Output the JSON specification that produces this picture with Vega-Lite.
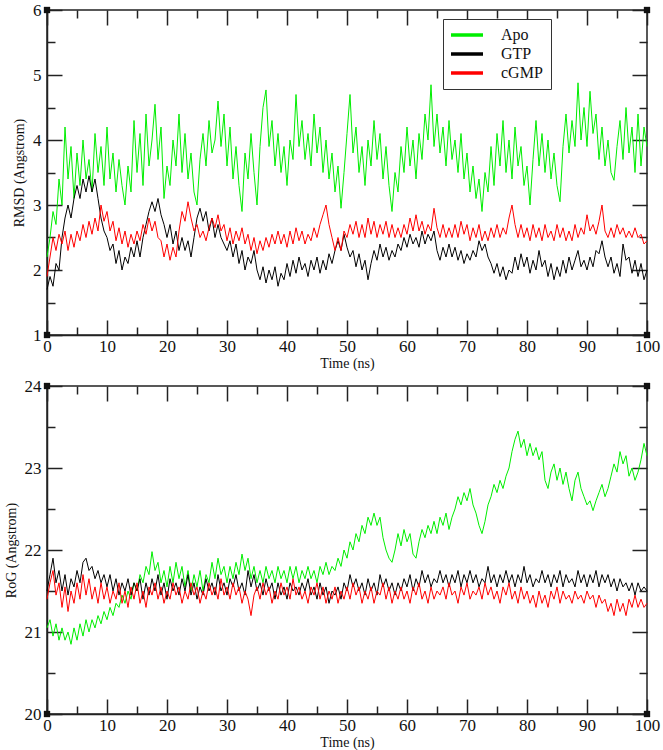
{
"$schema": "https://vega.github.io/schema/vega-lite/v6.json",
"padding": {"left": 3, "top": 0, "right": 10, "bottom": 2},
"background": "white",
"config": {
  "view": {"stroke": "#222", "strokeWidth": 1.5},
  "axis": {"labelFont": "Liberation Serif", "labelFontSize": 17, "labelColor": "#111", "titleFont": "Liberation Serif", "titleFontSize": 14, "titleFontWeight": "normal", "titleColor": "#111", "domainColor": "#222", "domainWidth": 1.5, "tickColor": "#222", "tickWidth": 1.5, "grid": false, "labelFlush": false, "labelOverlap": false, "format": "d"}
},
"datasets": {
  "rmsd": [
{"t":0,"Apo":2.2,"GTP":1.7,"cGMP":1.9},{"t":0.5,"Apo":2.5,"GTP":1.9,"cGMP":2.2},{"t":1,"Apo":2.9,"GTP":1.75,"cGMP":2.5},{"t":1.5,"Apo":2.7,"GTP":2.1,"cGMP":2.3},{"t":2,"Apo":3.4,"GTP":2.0,"cGMP":2.55},{"t":2.5,"Apo":3.0,"GTP":2.5,"cGMP":2.4},{"t":3,"Apo":4.2,"GTP":2.8,"cGMP":2.6},{"t":3.5,"Apo":3.4,"GTP":3.0,"cGMP":2.3},{"t":4,"Apo":3.9,"GTP":2.8,"cGMP":2.55},{"t":4.5,"Apo":3.1,"GTP":3.1,"cGMP":2.35},
{"t":5,"Apo":3.8,"GTP":3.3,"cGMP":2.6},{"t":5.5,"Apo":3.3,"GTP":3.1,"cGMP":2.45},{"t":6,"Apo":4.0,"GTP":3.4,"cGMP":2.7},{"t":6.5,"Apo":3.4,"GTP":3.2,"cGMP":2.5},{"t":7,"Apo":3.7,"GTP":3.45,"cGMP":2.75},{"t":7.5,"Apo":3.2,"GTP":3.2,"cGMP":2.55},{"t":8,"Apo":4.1,"GTP":3.4,"cGMP":2.8},{"t":8.5,"Apo":3.5,"GTP":3.1,"cGMP":2.6},{"t":9,"Apo":3.9,"GTP":2.8,"cGMP":3.0},{"t":9.5,"Apo":3.3,"GTP":2.6,"cGMP":2.75},
{"t":10,"Apo":4.2,"GTP":2.5,"cGMP":2.9},{"t":10.5,"Apo":3.4,"GTP":2.3,"cGMP":2.6},{"t":11,"Apo":3.8,"GTP":2.4,"cGMP":2.75},{"t":11.5,"Apo":3.2,"GTP":2.1,"cGMP":2.45},{"t":12,"Apo":3.7,"GTP":2.3,"cGMP":2.65},{"t":12.5,"Apo":3.3,"GTP":2.0,"cGMP":2.4},{"t":13,"Apo":3.0,"GTP":2.2,"cGMP":2.6},{"t":13.5,"Apo":3.6,"GTP":2.1,"cGMP":2.35},{"t":14,"Apo":3.2,"GTP":2.35,"cGMP":2.55},{"t":14.5,"Apo":4.3,"GTP":2.2,"cGMP":2.4},
{"t":15,"Apo":3.5,"GTP":2.45,"cGMP":2.6},{"t":15.5,"Apo":4.1,"GTP":2.2,"cGMP":2.45},{"t":16,"Apo":3.3,"GTP":2.5,"cGMP":2.7},{"t":16.5,"Apo":4.4,"GTP":2.7,"cGMP":2.55},{"t":17,"Apo":3.6,"GTP":2.9,"cGMP":2.8},{"t":17.5,"Apo":4.0,"GTP":3.05,"cGMP":2.6},{"t":18,"Apo":4.55,"GTP":2.9,"cGMP":2.75},{"t":18.5,"Apo":3.7,"GTP":3.1,"cGMP":2.5},{"t":19,"Apo":4.2,"GTP":2.85,"cGMP":2.45},{"t":19.5,"Apo":3.1,"GTP":2.7,"cGMP":2.2},
{"t":20,"Apo":3.6,"GTP":2.5,"cGMP":2.4},{"t":20.5,"Apo":3.3,"GTP":2.7,"cGMP":2.15},{"t":21,"Apo":4.0,"GTP":2.4,"cGMP":2.35},{"t":21.5,"Apo":3.6,"GTP":2.6,"cGMP":2.2},{"t":22,"Apo":4.4,"GTP":2.3,"cGMP":2.6},{"t":22.5,"Apo":3.5,"GTP":2.5,"cGMP":2.9},{"t":23,"Apo":4.1,"GTP":2.3,"cGMP":2.75},{"t":23.5,"Apo":3.4,"GTP":2.45,"cGMP":3.05},{"t":24,"Apo":3.8,"GTP":2.2,"cGMP":2.8},{"t":24.5,"Apo":3.2,"GTP":2.5,"cGMP":2.6},
{"t":25,"Apo":3.0,"GTP":2.8,"cGMP":2.7},{"t":25.5,"Apo":3.7,"GTP":2.95,"cGMP":2.5},{"t":26,"Apo":4.1,"GTP":2.75,"cGMP":2.6},{"t":26.5,"Apo":3.6,"GTP":2.9,"cGMP":2.45},{"t":27,"Apo":4.3,"GTP":2.6,"cGMP":2.65},{"t":27.5,"Apo":3.8,"GTP":2.8,"cGMP":2.8},{"t":28,"Apo":4.0,"GTP":2.5,"cGMP":2.65},{"t":28.5,"Apo":4.6,"GTP":2.7,"cGMP":2.85},{"t":29,"Apo":3.9,"GTP":2.5,"cGMP":2.6},{"t":29.5,"Apo":4.4,"GTP":2.4,"cGMP":2.7},
{"t":30,"Apo":3.6,"GTP":2.3,"cGMP":2.45},{"t":30.5,"Apo":4.2,"GTP":2.45,"cGMP":2.65},{"t":31,"Apo":3.4,"GTP":2.2,"cGMP":2.4},{"t":31.5,"Apo":3.9,"GTP":2.4,"cGMP":2.6},{"t":32,"Apo":3.3,"GTP":2.1,"cGMP":2.45},{"t":32.5,"Apo":2.9,"GTP":2.3,"cGMP":2.65},{"t":33,"Apo":3.8,"GTP":2.0,"cGMP":2.4},{"t":33.5,"Apo":3.4,"GTP":2.2,"cGMP":2.55},{"t":34,"Apo":4.1,"GTP":2.1,"cGMP":2.3},{"t":34.5,"Apo":3.5,"GTP":2.3,"cGMP":2.5},
{"t":35,"Apo":3.0,"GTP":2.0,"cGMP":2.25},{"t":35.5,"Apo":3.9,"GTP":1.85,"cGMP":2.45},{"t":36,"Apo":4.5,"GTP":2.05,"cGMP":2.3},{"t":36.5,"Apo":4.77,"GTP":1.8,"cGMP":2.5},{"t":37,"Apo":3.9,"GTP":2.0,"cGMP":2.35},{"t":37.5,"Apo":4.3,"GTP":1.85,"cGMP":2.55},{"t":38,"Apo":3.6,"GTP":2.05,"cGMP":2.4},{"t":38.5,"Apo":4.1,"GTP":1.75,"cGMP":2.6},{"t":39,"Apo":3.5,"GTP":1.95,"cGMP":2.4},{"t":39.5,"Apo":3.9,"GTP":1.85,"cGMP":2.55},
{"t":40,"Apo":3.3,"GTP":2.1,"cGMP":2.35},{"t":40.5,"Apo":4.0,"GTP":1.9,"cGMP":2.6},{"t":41,"Apo":3.7,"GTP":2.15,"cGMP":2.4},{"t":41.5,"Apo":4.7,"GTP":1.95,"cGMP":2.65},{"t":42,"Apo":3.9,"GTP":2.2,"cGMP":2.45},{"t":42.5,"Apo":4.3,"GTP":2.0,"cGMP":2.6},{"t":43,"Apo":3.7,"GTP":2.1,"cGMP":2.4},{"t":43.5,"Apo":4.1,"GTP":1.9,"cGMP":2.55},{"t":44,"Apo":3.6,"GTP":2.15,"cGMP":2.45},{"t":44.5,"Apo":4.4,"GTP":2.0,"cGMP":2.65},
{"t":45,"Apo":3.8,"GTP":2.2,"cGMP":2.5},{"t":45.5,"Apo":4.2,"GTP":1.95,"cGMP":2.7},{"t":46,"Apo":3.5,"GTP":2.15,"cGMP":2.85},{"t":46.5,"Apo":4.0,"GTP":2.0,"cGMP":3.0},{"t":47,"Apo":3.4,"GTP":2.25,"cGMP":2.7},{"t":47.5,"Apo":3.8,"GTP":2.1,"cGMP":2.5},{"t":48,"Apo":3.2,"GTP":2.3,"cGMP":2.3},{"t":48.5,"Apo":3.6,"GTP":2.45,"cGMP":2.5},{"t":49,"Apo":2.95,"GTP":2.3,"cGMP":2.3},{"t":49.5,"Apo":3.5,"GTP":2.55,"cGMP":2.6},
{"t":50,"Apo":4.1,"GTP":2.35,"cGMP":2.5},{"t":50.5,"Apo":4.7,"GTP":2.2,"cGMP":2.7},{"t":51,"Apo":3.8,"GTP":2.3,"cGMP":2.55},{"t":51.5,"Apo":4.2,"GTP":2.05,"cGMP":2.75},{"t":52,"Apo":3.5,"GTP":2.25,"cGMP":2.5},{"t":52.5,"Apo":3.9,"GTP":2.0,"cGMP":2.7},{"t":53,"Apo":3.3,"GTP":2.15,"cGMP":2.5},{"t":53.5,"Apo":4.0,"GTP":1.85,"cGMP":2.8},{"t":54,"Apo":3.6,"GTP":2.1,"cGMP":2.55},{"t":54.5,"Apo":4.3,"GTP":2.3,"cGMP":2.75},
{"t":55,"Apo":3.7,"GTP":2.15,"cGMP":2.5},{"t":55.5,"Apo":4.1,"GTP":2.4,"cGMP":2.7},{"t":56,"Apo":3.4,"GTP":2.2,"cGMP":2.55},{"t":56.5,"Apo":3.9,"GTP":2.35,"cGMP":2.75},{"t":57,"Apo":3.3,"GTP":2.15,"cGMP":2.5},{"t":57.5,"Apo":2.9,"GTP":2.3,"cGMP":2.7},{"t":58,"Apo":3.5,"GTP":2.2,"cGMP":2.5},{"t":58.5,"Apo":3.2,"GTP":2.4,"cGMP":2.65},{"t":59,"Apo":3.9,"GTP":2.3,"cGMP":2.5},{"t":59.5,"Apo":3.5,"GTP":2.5,"cGMP":2.7},
{"t":60,"Apo":4.2,"GTP":2.35,"cGMP":2.55},{"t":60.5,"Apo":3.6,"GTP":2.55,"cGMP":2.8},{"t":61,"Apo":4.0,"GTP":2.4,"cGMP":2.6},{"t":61.5,"Apo":3.4,"GTP":2.5,"cGMP":2.85},{"t":62,"Apo":4.1,"GTP":2.35,"cGMP":2.6},{"t":62.5,"Apo":3.7,"GTP":2.6,"cGMP":2.75},{"t":63,"Apo":4.4,"GTP":2.4,"cGMP":2.55},{"t":63.5,"Apo":4.0,"GTP":2.55,"cGMP":2.7},{"t":64,"Apo":4.85,"GTP":2.45,"cGMP":2.6},{"t":64.5,"Apo":3.9,"GTP":2.6,"cGMP":2.95},
{"t":65,"Apo":4.4,"GTP":2.3,"cGMP":2.65},{"t":65.5,"Apo":3.8,"GTP":2.15,"cGMP":2.5},{"t":66,"Apo":4.2,"GTP":2.35,"cGMP":2.7},{"t":66.5,"Apo":3.6,"GTP":2.2,"cGMP":2.5},{"t":67,"Apo":4.3,"GTP":2.4,"cGMP":2.65},{"t":67.5,"Apo":3.7,"GTP":2.2,"cGMP":2.5},{"t":68,"Apo":4.0,"GTP":2.35,"cGMP":2.7},{"t":68.5,"Apo":3.5,"GTP":2.15,"cGMP":2.5},{"t":69,"Apo":4.1,"GTP":2.3,"cGMP":2.75},{"t":69.5,"Apo":3.4,"GTP":2.1,"cGMP":2.55},
{"t":70,"Apo":3.8,"GTP":2.25,"cGMP":2.7},{"t":70.5,"Apo":3.2,"GTP":2.15,"cGMP":2.45},{"t":71,"Apo":3.6,"GTP":2.3,"cGMP":2.65},{"t":71.5,"Apo":3.1,"GTP":2.2,"cGMP":2.5},{"t":72,"Apo":3.4,"GTP":2.45,"cGMP":2.7},{"t":72.5,"Apo":2.9,"GTP":2.3,"cGMP":2.45},{"t":73,"Apo":3.5,"GTP":2.4,"cGMP":2.6},{"t":73.5,"Apo":3.2,"GTP":2.2,"cGMP":2.45},{"t":74,"Apo":3.9,"GTP":2.1,"cGMP":2.65},{"t":74.5,"Apo":3.3,"GTP":1.95,"cGMP":2.5},
{"t":75,"Apo":4.1,"GTP":2.1,"cGMP":2.7},{"t":75.5,"Apo":3.6,"GTP":1.9,"cGMP":2.5},{"t":76,"Apo":4.3,"GTP":2.05,"cGMP":2.65},{"t":76.5,"Apo":3.5,"GTP":1.85,"cGMP":2.55},{"t":77,"Apo":4.0,"GTP":2.0,"cGMP":2.8},{"t":77.5,"Apo":3.4,"GTP":1.95,"cGMP":3.0},{"t":78,"Apo":4.2,"GTP":2.2,"cGMP":2.7},{"t":78.5,"Apo":3.6,"GTP":2.0,"cGMP":2.5},{"t":79,"Apo":3.9,"GTP":2.25,"cGMP":2.7},{"t":79.5,"Apo":3.3,"GTP":2.05,"cGMP":2.5},
{"t":80,"Apo":3.6,"GTP":2.2,"cGMP":2.65},{"t":80.5,"Apo":3.0,"GTP":1.95,"cGMP":2.45},{"t":81,"Apo":3.7,"GTP":2.15,"cGMP":2.7},{"t":81.5,"Apo":4.3,"GTP":2.0,"cGMP":2.5},{"t":82,"Apo":3.6,"GTP":2.3,"cGMP":2.65},{"t":82.5,"Apo":4.1,"GTP":2.05,"cGMP":2.45},{"t":83,"Apo":3.5,"GTP":2.15,"cGMP":2.7},{"t":83.5,"Apo":4.0,"GTP":1.9,"cGMP":2.5},{"t":84,"Apo":3.4,"GTP":2.1,"cGMP":2.6},{"t":84.5,"Apo":3.8,"GTP":1.85,"cGMP":2.45},
{"t":85,"Apo":3.3,"GTP":2.05,"cGMP":2.7},{"t":85.5,"Apo":3.05,"GTP":1.9,"cGMP":2.5},{"t":86,"Apo":3.9,"GTP":2.15,"cGMP":2.65},{"t":86.5,"Apo":4.4,"GTP":1.95,"cGMP":2.45},{"t":87,"Apo":3.8,"GTP":2.2,"cGMP":2.6},{"t":87.5,"Apo":4.3,"GTP":2.0,"cGMP":2.45},{"t":88,"Apo":3.9,"GTP":2.15,"cGMP":2.7},{"t":88.5,"Apo":4.88,"GTP":2.3,"cGMP":2.5},{"t":89,"Apo":4.0,"GTP":2.05,"cGMP":2.65},{"t":89.5,"Apo":4.5,"GTP":2.15,"cGMP":2.55},
{"t":90,"Apo":3.9,"GTP":2.0,"cGMP":2.85},{"t":90.5,"Apo":4.75,"GTP":2.2,"cGMP":2.6},{"t":91,"Apo":4.1,"GTP":2.05,"cGMP":2.7},{"t":91.5,"Apo":4.4,"GTP":2.3,"cGMP":2.55},{"t":92,"Apo":3.7,"GTP":2.25,"cGMP":2.75},{"t":92.5,"Apo":4.2,"GTP":2.45,"cGMP":3.0},{"t":93,"Apo":3.6,"GTP":2.2,"cGMP":2.6},{"t":93.5,"Apo":4.0,"GTP":2.05,"cGMP":2.5},{"t":94,"Apo":3.5,"GTP":2.2,"cGMP":2.65},{"t":94.5,"Apo":3.38,"GTP":1.95,"cGMP":2.5},
{"t":95,"Apo":3.9,"GTP":2.1,"cGMP":2.7},{"t":95.5,"Apo":4.3,"GTP":1.9,"cGMP":2.55},{"t":96,"Apo":3.7,"GTP":2.4,"cGMP":2.65},{"t":96.5,"Apo":4.5,"GTP":2.15,"cGMP":2.5},{"t":97,"Apo":3.8,"GTP":2.2,"cGMP":2.6},{"t":97.5,"Apo":4.2,"GTP":1.95,"cGMP":2.5},{"t":98,"Apo":3.5,"GTP":2.15,"cGMP":2.65},{"t":98.5,"Apo":4.4,"GTP":1.9,"cGMP":2.5},{"t":99,"Apo":3.6,"GTP":2.1,"cGMP":2.55},{"t":99.5,"Apo":4.2,"GTP":1.85,"cGMP":2.4},
{"t":100,"Apo":3.9,"GTP":2.0,"cGMP":2.45}
  ],
  "rog": [
{"t":0,"Apo":21.05,"GTP":21.5,"cGMP":21.4},{"t":0.5,"Apo":21.15,"GTP":21.7,"cGMP":21.6},{"t":1,"Apo":20.95,"GTP":21.9,"cGMP":21.75},{"t":1.5,"Apo":21.1,"GTP":21.6,"cGMP":21.45},{"t":2,"Apo":20.9,"GTP":21.75,"cGMP":21.6},{"t":2.5,"Apo":21.05,"GTP":21.5,"cGMP":21.3},{"t":3,"Apo":20.9,"GTP":21.7,"cGMP":21.55},{"t":3.5,"Apo":21.0,"GTP":21.45,"cGMP":21.25},{"t":4,"Apo":20.85,"GTP":21.65,"cGMP":21.5},{"t":4.5,"Apo":21.05,"GTP":21.55,"cGMP":21.35},
{"t":5,"Apo":20.9,"GTP":21.75,"cGMP":21.6},{"t":5.5,"Apo":21.1,"GTP":21.6,"cGMP":21.4},{"t":6,"Apo":20.95,"GTP":21.85,"cGMP":21.7},{"t":6.5,"Apo":21.15,"GTP":21.9,"cGMP":21.45},{"t":7,"Apo":21.0,"GTP":21.75,"cGMP":21.65},{"t":7.5,"Apo":21.15,"GTP":21.8,"cGMP":21.4},{"t":8,"Apo":21.05,"GTP":21.65,"cGMP":21.55},{"t":8.5,"Apo":21.2,"GTP":21.75,"cGMP":21.35},{"t":9,"Apo":21.1,"GTP":21.6,"cGMP":21.6},{"t":9.5,"Apo":21.25,"GTP":21.7,"cGMP":21.4},
{"t":10,"Apo":21.15,"GTP":21.55,"cGMP":21.55},{"t":10.5,"Apo":21.3,"GTP":21.7,"cGMP":21.35},{"t":11,"Apo":21.2,"GTP":21.5,"cGMP":21.5},{"t":11.5,"Apo":21.35,"GTP":21.65,"cGMP":21.4},{"t":12,"Apo":21.3,"GTP":21.45,"cGMP":21.6},{"t":12.5,"Apo":21.45,"GTP":21.6,"cGMP":21.35},{"t":13,"Apo":21.35,"GTP":21.5,"cGMP":21.5},{"t":13.5,"Apo":21.5,"GTP":21.65,"cGMP":21.3},{"t":14,"Apo":21.4,"GTP":21.45,"cGMP":21.55},{"t":14.5,"Apo":21.6,"GTP":21.6,"cGMP":21.4},
{"t":15,"Apo":21.5,"GTP":21.5,"cGMP":21.6},{"t":15.5,"Apo":21.7,"GTP":21.65,"cGMP":21.35},{"t":16,"Apo":21.6,"GTP":21.4,"cGMP":21.5},{"t":16.5,"Apo":21.8,"GTP":21.6,"cGMP":21.3},{"t":17,"Apo":21.7,"GTP":21.45,"cGMP":21.55},{"t":17.5,"Apo":21.98,"GTP":21.65,"cGMP":21.45},{"t":18,"Apo":21.75,"GTP":21.5,"cGMP":21.6},{"t":18.5,"Apo":21.85,"GTP":21.7,"cGMP":21.4},{"t":19,"Apo":21.6,"GTP":21.45,"cGMP":21.55},{"t":19.5,"Apo":21.75,"GTP":21.6,"cGMP":21.35},
{"t":20,"Apo":21.55,"GTP":21.4,"cGMP":21.5},{"t":20.5,"Apo":21.8,"GTP":21.65,"cGMP":21.4},{"t":21,"Apo":21.6,"GTP":21.5,"cGMP":21.6},{"t":21.5,"Apo":21.85,"GTP":21.6,"cGMP":21.45},{"t":22,"Apo":21.65,"GTP":21.45,"cGMP":21.55},{"t":22.5,"Apo":21.8,"GTP":21.65,"cGMP":21.35},{"t":23,"Apo":21.55,"GTP":21.5,"cGMP":21.5},{"t":23.5,"Apo":21.75,"GTP":21.7,"cGMP":21.4},{"t":24,"Apo":21.5,"GTP":21.45,"cGMP":21.6},{"t":24.5,"Apo":21.7,"GTP":21.6,"cGMP":21.45},
{"t":25,"Apo":21.55,"GTP":21.4,"cGMP":21.55},{"t":25.5,"Apo":21.75,"GTP":21.55,"cGMP":21.35},{"t":26,"Apo":21.5,"GTP":21.45,"cGMP":21.5},{"t":26.5,"Apo":21.7,"GTP":21.65,"cGMP":21.4},{"t":27,"Apo":21.6,"GTP":21.5,"cGMP":21.6},{"t":27.5,"Apo":21.85,"GTP":21.6,"cGMP":21.45},{"t":28,"Apo":21.65,"GTP":21.45,"cGMP":21.55},{"t":28.5,"Apo":21.9,"GTP":21.7,"cGMP":21.4},{"t":29,"Apo":21.7,"GTP":21.5,"cGMP":21.65},{"t":29.5,"Apo":21.8,"GTP":21.6,"cGMP":21.45},
{"t":30,"Apo":21.6,"GTP":21.45,"cGMP":21.55},{"t":30.5,"Apo":21.8,"GTP":21.65,"cGMP":21.4},{"t":31,"Apo":21.65,"GTP":21.55,"cGMP":21.6},{"t":31.5,"Apo":21.85,"GTP":21.7,"cGMP":21.45},{"t":32,"Apo":21.7,"GTP":21.5,"cGMP":21.55},{"t":32.5,"Apo":21.95,"GTP":21.6,"cGMP":21.35},{"t":33,"Apo":21.75,"GTP":21.45,"cGMP":21.5},{"t":33.5,"Apo":21.9,"GTP":21.75,"cGMP":21.4},{"t":34,"Apo":21.65,"GTP":21.55,"cGMP":21.2},{"t":34.5,"Apo":21.8,"GTP":21.7,"cGMP":21.45},
{"t":35,"Apo":21.6,"GTP":21.5,"cGMP":21.55},{"t":35.5,"Apo":21.75,"GTP":21.6,"cGMP":21.4},{"t":36,"Apo":21.6,"GTP":21.45,"cGMP":21.6},{"t":36.5,"Apo":21.8,"GTP":21.65,"cGMP":21.45},{"t":37,"Apo":21.65,"GTP":21.5,"cGMP":21.55},{"t":37.5,"Apo":21.75,"GTP":21.6,"cGMP":21.35},{"t":38,"Apo":21.6,"GTP":21.4,"cGMP":21.5},{"t":38.5,"Apo":21.8,"GTP":21.6,"cGMP":21.4},{"t":39,"Apo":21.65,"GTP":21.45,"cGMP":21.6},{"t":39.5,"Apo":21.75,"GTP":21.55,"cGMP":21.45},
{"t":40,"Apo":21.6,"GTP":21.4,"cGMP":21.55},{"t":40.5,"Apo":21.8,"GTP":21.6,"cGMP":21.4},{"t":41,"Apo":21.65,"GTP":21.5,"cGMP":21.65},{"t":41.5,"Apo":21.8,"GTP":21.55,"cGMP":21.45},{"t":42,"Apo":21.6,"GTP":21.45,"cGMP":21.55},{"t":42.5,"Apo":21.75,"GTP":21.6,"cGMP":21.4},{"t":43,"Apo":21.65,"GTP":21.5,"cGMP":21.5},{"t":43.5,"Apo":21.8,"GTP":21.65,"cGMP":21.35},{"t":44,"Apo":21.65,"GTP":21.45,"cGMP":21.55},{"t":44.5,"Apo":21.75,"GTP":21.55,"cGMP":21.45},
{"t":45,"Apo":21.6,"GTP":21.4,"cGMP":21.6},{"t":45.5,"Apo":21.8,"GTP":21.6,"cGMP":21.4},{"t":46,"Apo":21.7,"GTP":21.45,"cGMP":21.55},{"t":46.5,"Apo":21.85,"GTP":21.55,"cGMP":21.35},{"t":47,"Apo":21.7,"GTP":21.35,"cGMP":21.5},{"t":47.5,"Apo":21.8,"GTP":21.5,"cGMP":21.4},{"t":48,"Apo":21.75,"GTP":21.45,"cGMP":21.55},{"t":48.5,"Apo":21.9,"GTP":21.55,"cGMP":21.35},{"t":49,"Apo":21.8,"GTP":21.4,"cGMP":21.5},{"t":49.5,"Apo":22.0,"GTP":21.6,"cGMP":21.4},
{"t":50,"Apo":21.9,"GTP":21.5,"cGMP":21.55},{"t":50.5,"Apo":22.1,"GTP":21.7,"cGMP":21.4},{"t":51,"Apo":22.0,"GTP":21.55,"cGMP":21.6},{"t":51.5,"Apo":22.2,"GTP":21.65,"cGMP":21.45},{"t":52,"Apo":22.1,"GTP":21.5,"cGMP":21.55},{"t":52.5,"Apo":22.3,"GTP":21.6,"cGMP":21.35},{"t":53,"Apo":22.2,"GTP":21.45,"cGMP":21.5},{"t":53.5,"Apo":22.4,"GTP":21.65,"cGMP":21.4},{"t":54,"Apo":22.3,"GTP":21.5,"cGMP":21.55},{"t":54.5,"Apo":22.45,"GTP":21.6,"cGMP":21.35},
{"t":55,"Apo":22.3,"GTP":21.45,"cGMP":21.5},{"t":55.5,"Apo":22.4,"GTP":21.7,"cGMP":21.45},{"t":56,"Apo":22.15,"GTP":21.55,"cGMP":21.6},{"t":56.5,"Apo":22.0,"GTP":21.65,"cGMP":21.4},{"t":57,"Apo":21.9,"GTP":21.5,"cGMP":21.55},{"t":57.5,"Apo":21.85,"GTP":21.6,"cGMP":21.35},{"t":58,"Apo":22.0,"GTP":21.45,"cGMP":21.5},{"t":58.5,"Apo":22.2,"GTP":21.6,"cGMP":21.4},{"t":59,"Apo":22.05,"GTP":21.5,"cGMP":21.55},{"t":59.5,"Apo":22.25,"GTP":21.65,"cGMP":21.4},
{"t":60,"Apo":22.1,"GTP":21.55,"cGMP":21.5},{"t":60.5,"Apo":22.2,"GTP":21.7,"cGMP":21.35},{"t":61,"Apo":21.95,"GTP":21.5,"cGMP":21.55},{"t":61.5,"Apo":21.9,"GTP":21.65,"cGMP":21.45},{"t":62,"Apo":22.1,"GTP":21.55,"cGMP":21.6},{"t":62.5,"Apo":22.25,"GTP":21.75,"cGMP":21.4},{"t":63,"Apo":22.15,"GTP":21.6,"cGMP":21.5},{"t":63.5,"Apo":22.3,"GTP":21.7,"cGMP":21.35},{"t":64,"Apo":22.2,"GTP":21.55,"cGMP":21.55},{"t":64.5,"Apo":22.35,"GTP":21.65,"cGMP":21.4},
{"t":65,"Apo":22.2,"GTP":21.6,"cGMP":21.5},{"t":65.5,"Apo":22.4,"GTP":21.75,"cGMP":21.45},{"t":66,"Apo":22.3,"GTP":21.6,"cGMP":21.55},{"t":66.5,"Apo":22.45,"GTP":21.7,"cGMP":21.4},{"t":67,"Apo":22.25,"GTP":21.55,"cGMP":21.6},{"t":67.5,"Apo":22.4,"GTP":21.7,"cGMP":21.45},{"t":68,"Apo":22.5,"GTP":21.6,"cGMP":21.5},{"t":68.5,"Apo":22.65,"GTP":21.75,"cGMP":21.35},{"t":69,"Apo":22.55,"GTP":21.55,"cGMP":21.55},{"t":69.5,"Apo":22.7,"GTP":21.7,"cGMP":21.45},
{"t":70,"Apo":22.6,"GTP":21.6,"cGMP":21.6},{"t":70.5,"Apo":22.75,"GTP":21.75,"cGMP":21.4},{"t":71,"Apo":22.55,"GTP":21.6,"cGMP":21.5},{"t":71.5,"Apo":22.45,"GTP":21.7,"cGMP":21.45},{"t":72,"Apo":22.3,"GTP":21.55,"cGMP":21.55},{"t":72.5,"Apo":22.2,"GTP":21.65,"cGMP":21.4},{"t":73,"Apo":22.35,"GTP":21.6,"cGMP":21.6},{"t":73.5,"Apo":22.55,"GTP":21.8,"cGMP":21.45},{"t":74,"Apo":22.65,"GTP":21.6,"cGMP":21.55},{"t":74.5,"Apo":22.8,"GTP":21.7,"cGMP":21.4},
{"t":75,"Apo":22.7,"GTP":21.55,"cGMP":21.5},{"t":75.5,"Apo":22.85,"GTP":21.7,"cGMP":21.35},{"t":76,"Apo":22.75,"GTP":21.6,"cGMP":21.55},{"t":76.5,"Apo":22.9,"GTP":21.75,"cGMP":21.45},{"t":77,"Apo":23.0,"GTP":21.6,"cGMP":21.6},{"t":77.5,"Apo":23.2,"GTP":21.7,"cGMP":21.4},{"t":78,"Apo":23.35,"GTP":21.55,"cGMP":21.5},{"t":78.5,"Apo":23.45,"GTP":21.7,"cGMP":21.35},{"t":79,"Apo":23.25,"GTP":21.6,"cGMP":21.55},{"t":79.5,"Apo":23.35,"GTP":21.8,"cGMP":21.4},
{"t":80,"Apo":23.15,"GTP":21.6,"cGMP":21.5},{"t":80.5,"Apo":23.3,"GTP":21.7,"cGMP":21.35},{"t":81,"Apo":23.15,"GTP":21.55,"cGMP":21.45},{"t":81.5,"Apo":23.25,"GTP":21.65,"cGMP":21.3},{"t":82,"Apo":23.1,"GTP":21.6,"cGMP":21.5},{"t":82.5,"Apo":23.2,"GTP":21.75,"cGMP":21.35},{"t":83,"Apo":22.85,"GTP":21.6,"cGMP":21.45},{"t":83.5,"Apo":22.75,"GTP":21.7,"cGMP":21.3},{"t":84,"Apo":22.95,"GTP":21.55,"cGMP":21.5},{"t":84.5,"Apo":23.05,"GTP":21.7,"cGMP":21.4},
{"t":85,"Apo":22.85,"GTP":21.6,"cGMP":21.55},{"t":85.5,"Apo":23.0,"GTP":21.75,"cGMP":21.35},{"t":86,"Apo":22.8,"GTP":21.55,"cGMP":21.5},{"t":86.5,"Apo":22.95,"GTP":21.7,"cGMP":21.4},{"t":87,"Apo":22.75,"GTP":21.6,"cGMP":21.45},{"t":87.5,"Apo":22.6,"GTP":21.65,"cGMP":21.35},{"t":88,"Apo":22.85,"GTP":21.55,"cGMP":21.5},{"t":88.5,"Apo":22.95,"GTP":21.75,"cGMP":21.4},{"t":89,"Apo":22.75,"GTP":21.6,"cGMP":21.45},{"t":89.5,"Apo":22.65,"GTP":21.7,"cGMP":21.35},
{"t":90,"Apo":22.55,"GTP":21.55,"cGMP":21.5},{"t":90.5,"Apo":22.6,"GTP":21.7,"cGMP":21.4},{"t":91,"Apo":22.48,"GTP":21.6,"cGMP":21.45},{"t":91.5,"Apo":22.6,"GTP":21.75,"cGMP":21.3},{"t":92,"Apo":22.7,"GTP":21.55,"cGMP":21.45},{"t":92.5,"Apo":22.8,"GTP":21.7,"cGMP":21.35},{"t":93,"Apo":22.65,"GTP":21.6,"cGMP":21.4},{"t":93.5,"Apo":22.75,"GTP":21.7,"cGMP":21.25},{"t":94,"Apo":22.9,"GTP":21.55,"cGMP":21.35},{"t":94.5,"Apo":23.05,"GTP":21.65,"cGMP":21.2},
{"t":95,"Apo":22.95,"GTP":21.5,"cGMP":21.4},{"t":95.5,"Apo":23.2,"GTP":21.65,"cGMP":21.25},{"t":96,"Apo":23.05,"GTP":21.55,"cGMP":21.35},{"t":96.5,"Apo":23.15,"GTP":21.6,"cGMP":21.2},{"t":97,"Apo":22.9,"GTP":21.5,"cGMP":21.4},{"t":97.5,"Apo":23.0,"GTP":21.6,"cGMP":21.3},{"t":98,"Apo":22.85,"GTP":21.45,"cGMP":21.45},{"t":98.5,"Apo":22.95,"GTP":21.6,"cGMP":21.3},{"t":99,"Apo":23.1,"GTP":21.5,"cGMP":21.4},{"t":99.5,"Apo":23.3,"GTP":21.55,"cGMP":21.3},
{"t":100,"Apo":23.15,"GTP":21.5,"cGMP":21.35}
  ],
  "cornersTop": [{"t":0,"v":1},{"t":0,"v":6},{"t":100,"v":1},{"t":100,"v":6}],
  "cornersBottom": [{"t":0,"v":20},{"t":0,"v":24},{"t":100,"v":20},{"t":100,"v":24}]
},
"bounds": "flush",
"spacing": 51,
"resolve": {"scale": {"color": "independent"}},
"vconcat": [
  {
    "width": 600, "height": 325,
    "layer": [
      {
        "data": {"name": "rmsd"},
        "transform": [{"fold": ["Apo", "GTP", "cGMP"], "as": ["s", "v"]}],
        "mark": {"type": "line", "strokeWidth": 1},
        "encoding": {
          "x": {"field": "t", "type": "quantitative", "scale": {"domain": [0, 100], "nice": false},
            "axis": {"orient": "bottom", "values": [0,5,10,15,20,25,30,35,40,45,50,55,60,65,70,75,80,85,90,95,100], "labelExpr": "datum.value % 10 === 0 ? datum.label : ''", "tickSize": {"condition": {"test": "datum.value % 10 === 0", "value": -15}, "value": -8}, "labelPadding": 18, "title": "Time (ns)", "titlePadding": -5}},
          "y": {"field": "v", "type": "quantitative", "scale": {"domain": [1, 6], "nice": false, "zero": false},
            "axis": {"orient": "left", "values": [1,1.5,2,2.5,3,3.5,4,4.5,5,5.5,6], "labelExpr": "datum.value % 1 === 0 ? datum.label : ''", "tickSize": {"condition": {"test": "datum.value % 1 === 0", "value": -15}, "value": -8}, "labelPadding": 21, "title": "RMSD (Angstrom)", "titlePadding": 6}},
          "color": {"field": "s", "type": "nominal", "sort": ["Apo", "GTP", "cGMP"],
            "scale": {"domain": ["Apo", "GTP", "cGMP"], "range": ["#00ee00", "#000000", "#ff0000"]},
            "legend": {"orient": "none", "legendX": 396, "legendY": 9, "title": null, "strokeColor": "#333", "fillColor": "white", "padding": 8, "labelFont": "Liberation Serif", "labelFontSize": 16, "labelColor": "#111", "symbolType": "M-4,0H4", "symbolSize": 64, "symbolStrokeWidth": 3.5, "symbolOffset": 8, "labelOffset": 26, "rowPadding": 3}}
        }
      },
      {
        "data": {"name": "cornersTop"},
        "mark": {"type": "point", "shape": "square", "filled": true, "size": 40, "color": "#111", "opacity": 1},
        "encoding": {
          "x": {"field": "t", "type": "quantitative", "axis": {"orient": "top", "values": [0,5,10,15,20,25,30,35,40,45,50,55,60,65,70,75,80,85,90,95,100], "labels": false, "title": null, "domain": false, "tickSize": {"condition": {"test": "datum.value % 10 === 0", "value": -15}, "value": -8}}},
          "y": {"field": "v", "type": "quantitative", "axis": {"orient": "right", "values": [1,1.5,2,2.5,3,3.5,4,4.5,5,5.5,6], "labels": false, "title": null, "domain": false, "tickSize": {"condition": {"test": "datum.value % 1 === 0", "value": -15}, "value": -8}}}
        }
      }
    ],
    "resolve": {"axis": {"x": "independent", "y": "independent"}}
  },
  {
    "width": 600, "height": 328,
    "layer": [
      {
        "data": {"name": "rog"},
        "transform": [{"fold": ["Apo", "GTP", "cGMP"], "as": ["s", "v"]}],
        "mark": {"type": "line", "strokeWidth": 1},
        "encoding": {
          "x": {"field": "t", "type": "quantitative", "scale": {"domain": [0, 100], "nice": false},
            "axis": {"orient": "bottom", "values": [0,5,10,15,20,25,30,35,40,45,50,55,60,65,70,75,80,85,90,95,100], "labelExpr": "datum.value % 10 === 0 ? datum.label : ''", "tickSize": {"condition": {"test": "datum.value % 10 === 0", "value": -15}, "value": -8}, "labelPadding": 18, "title": "Time (ns)", "titlePadding": -5}},
          "y": {"field": "v", "type": "quantitative", "scale": {"domain": [20, 24], "nice": false, "zero": false},
            "axis": {"orient": "left", "values": [20,20.5,21,21.5,22,22.5,23,23.5,24], "labelExpr": "datum.value % 1 === 0 ? datum.label : ''", "tickSize": {"condition": {"test": "datum.value % 1 === 0", "value": -15}, "value": -8}, "labelPadding": 21, "title": "RoG (Angstrom)", "titlePadding": 6}},
          "color": {"field": "s", "type": "nominal", "sort": ["Apo", "GTP", "cGMP"],
            "scale": {"domain": ["Apo", "GTP", "cGMP"], "range": ["#00ee00", "#000000", "#ff0000"]},
            "legend": null}
        }
      },
      {
        "data": {"name": "cornersBottom"},
        "mark": {"type": "point", "shape": "square", "filled": true, "size": 40, "color": "#111", "opacity": 1},
        "encoding": {
          "x": {"field": "t", "type": "quantitative", "axis": {"orient": "top", "values": [0,5,10,15,20,25,30,35,40,45,50,55,60,65,70,75,80,85,90,95,100], "labels": false, "title": null, "domain": false, "tickSize": {"condition": {"test": "datum.value % 10 === 0", "value": -15}, "value": -8}}},
          "y": {"field": "v", "type": "quantitative", "axis": {"orient": "right", "values": [20,20.5,21,21.5,22,22.5,23,23.5,24], "labels": false, "title": null, "domain": false, "tickSize": {"condition": {"test": "datum.value % 1 === 0", "value": -15}, "value": -8}}}
        }
      }
    ],
    "resolve": {"axis": {"x": "independent", "y": "independent"}}
  }
]
}
